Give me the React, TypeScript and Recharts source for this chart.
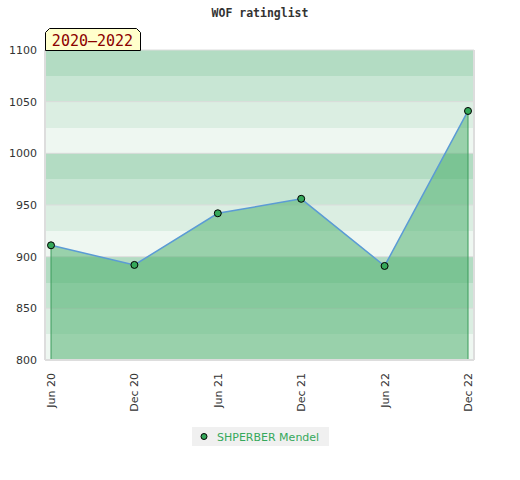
import React from 'react';
import {
  ComposedChart,
  Area,
  XAxis,
  YAxis,
  CartesianGrid,
  ReferenceLine,
} from 'recharts';

const title = 'WOF ratinglist';
const periodLabel = '2020–2022';
const seriesName = 'SHPERBER Mendel';
const categories = ['Jun 20', 'Dec 20', 'Jun 21', 'Dec 21', 'Jun 22', 'Dec 22'];
const ratings = [911, 892, 942, 956, 891, 1041];
const leftTicks = [800, 850, 900, 950, 1000, 1050, 1100];
const rightTicks = [
  800, 810, 820, 830, 840, 850, 860, 870, 880, 890, 900, 910, 920, 930, 940, 950, 960, 970, 980, 990,
  1000, 1010, 1020, 1030, 1040, 1050, 1060, 1070, 1080, 1090, 1100,
];
const bandEdges = [800, 825, 850, 875, 900, 925, 950, 975, 1000, 1025, 1050, 1075, 1100];

// stripes from the top: dark, medium, light, lightest
const bandColors = ['#b3dcc3', '#c8e6d4', '#dbeee2', '#eef7f1'];
const axisFont = 'DejaVu Sans, sans-serif';
const xPad = 6;

const data = categories.map((c, i) => ({ cat: c, rating: ratings[i] }));
const yMin = leftTicks[0];
const yMax = leftTicks[leftTicks.length - 1];

const RightTick = (props: any) => {
  const { x, y, payload } = props;
  const v = payload.value;
  if (v % 50 !== 0) return <g />;
  return (
    <text x={x} y={y} dy={4} fontSize={11} fontFamily={axisFont} fill="#333" textAnchor="start">
      {v}
    </text>
  );
};

// short inward tick mark at the right edge of the plot
const MinorTickShape = (p: any) => {
  const xa = Number(p.x1);
  const xb = Number(p.x2);
  const y = Number(p.y1);
  if (!isFinite(xa) || !isFinite(xb) || !isFinite(y)) return <g />;
  const xr = Math.max(xa, xb) + xPad;
  return <line x1={xr - 4} x2={xr} y1={y} y2={y} stroke="#000" strokeWidth={1} />;
};

const BottomTick = (props: any) => {
  const { x, y, payload } = props;
  return (
    <text
      x={x}
      y={y}
      dy={4}
      transform={`rotate(-90, ${x}, ${y})`}
      textAnchor="end"
      fontSize={11}
      fontFamily={axisFont}
      fill="#333"
    >
      {payload.value}
    </text>
  );
};

const bandCoords = (p: any) => {
  const s = p && p.yAxis ? p.yAxis.scale : null;
  const off = (p && p.offset) || {};
  const mapOne = (v: number): number => {
    if (typeof s === 'function') return s(v);
    if (s && typeof s.map === 'function') return s.map(v);
    if (s && typeof s.scale === 'function') return s.scale(v);
    const top = off.top ?? 50;
    const h = off.height ?? 310;
    return top + ((yMax - v) / (yMax - yMin)) * h;
  };
  return bandEdges.map((v) => mapOne(v));
};

export default function App() {
  const first = categories[0];
  const last = categories[categories.length - 1];
  return (
    <div style={{ position: 'absolute', left: 0, top: 0, width: 520, height: 480, background: '#fff' }}>
      <ComposedChart
        width={520}
        height={480}
        data={data}
        margin={{ top: 50, right: 0, bottom: 60, left: 0 }}
      >
        <CartesianGrid
          yAxisId="left"
          vertical={false}
          stroke="none"
          horizontalCoordinatesGenerator={bandCoords}
          horizontalFill={bandColors}
          fillOpacity={1}
        />
        <CartesianGrid yAxisId="left" vertical={false} stroke="#dcdcdc" strokeWidth={1} />
        <ReferenceLine
          yAxisId="left"
          segment={[
            { x: first, y: yMin },
            { x: first, y: ratings[0] },
          ]}
          stroke="#3a9a5a"
          strokeWidth={1}
        />
        <ReferenceLine
          yAxisId="left"
          segment={[
            { x: last, y: yMin },
            { x: last, y: ratings[ratings.length - 1] },
          ]}
          stroke="#3a9a5a"
          strokeWidth={1}
        />
        <Area
          yAxisId="left"
          type="linear"
          dataKey="rating"
          name={seriesName}
          baseValue={yMin}
          stroke="#5b9bd5"
          strokeWidth={1.5}
          fill="#44ac66"
          fillOpacity={0.5}
          dot={{ r: 3.5, fill: '#35a85a', stroke: '#000', strokeWidth: 1, fillOpacity: 1 }}
          activeDot={false}
          isAnimationActive={false}
        />
        {rightTicks.map((v) => (
          <ReferenceLine
            key={'mt' + v}
            yAxisId="right"
            y={v}
            stroke="#000"
            shape={MinorTickShape}
          />
        ))}
        <XAxis
          dataKey="cat"
          type="category"
          padding={{ left: xPad, right: xPad }}
          height={60}
          interval={0}
          tickLine={false}
          tickMargin={7}
          axisLine={{ stroke: '#ddd', strokeWidth: 2 }}
          tick={<BottomTick />}
        />
        <YAxis
          yAxisId="left"
          orientation="left"
          width={45}
          domain={[yMin, yMax]}
          ticks={leftTicks}
          interval={0}
          tickLine={false}
          axisLine={{ stroke: '#ddd', strokeWidth: 2 }}
          tick={{ fontSize: 11, fontFamily: axisFont, fill: '#333' }}
        />
        <YAxis
          yAxisId="right"
          orientation="right"
          width={46}
          domain={[yMin, yMax]}
          ticks={rightTicks}
          interval={0}
          tickLine={false}
          tickSize={0}
          tickMargin={8}
          axisLine={{ stroke: '#ddd', strokeWidth: 2 }}
          tick={<RightTick />}
        />
      </ComposedChart>

      <svg
        width={520}
        height={60}
        style={{ position: 'absolute', left: 0, top: 0, pointerEvents: 'none' }}
      >
        <text
          x={260}
          y={17}
          textAnchor="middle"
          fontSize={11.5}
          fontWeight="bold"
          fontFamily="DejaVu Sans Mono, monospace"
          fill="#333"
        >
          {title}
        </text>
        <path
          d="M45.5,50.5 L45.5,32.5 L49.5,28.5 L136.5,28.5 L140.5,32.5 L140.5,50.5 Z"
          fill="#ffffcc"
          stroke="#000"
          strokeWidth={1}
        />
        <text
          x={92.5}
          y={45.5}
          textAnchor="middle"
          fontSize={15}
          fontFamily="DejaVu Sans Mono, monospace"
          fill="#8b0000"
        >
          {periodLabel}
        </text>
      </svg>

      <div
        style={{
          position: 'absolute',
          left: 192,
          top: 427,
          width: 137,
          height: 19,
          background: '#f0f0f0',
        }}
      >
        <svg width={137} height={19} style={{ display: 'block' }}>
          <circle cx={12} cy={9.5} r={3} fill="#35a85a" stroke="#000" strokeWidth={1} />
          <text x={25} y={13.5} fontSize={11} fontFamily={axisFont} fill="#35a85a">
            {seriesName}
          </text>
        </svg>
      </div>
    </div>
  );
}
